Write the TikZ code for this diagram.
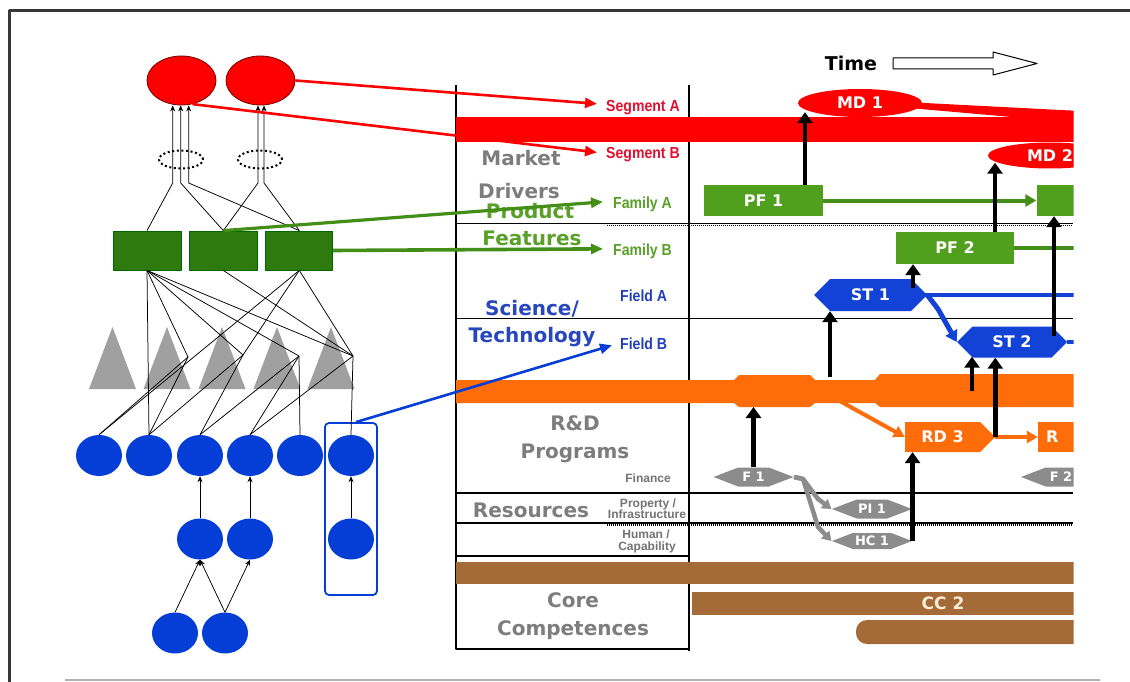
\documentclass[tikz,border=0pt]{standalone}
\usepackage{fontspec}
\setmainfont{DejaVu Sans}
\newfontfamily\dvfont{DejaVu Sans}
\newfontfamily\narrowfont[FakeStretch=0.88]{Liberation Sans}
\newfontfamily\plainfont{Liberation Sans}
\usetikzlibrary{shapes.geometric,shapes.symbols,arrows.meta,calc}

\definecolor{mdred}{RGB}{255,0,0}
\definecolor{segred}{RGB}{226,16,48}
\definecolor{pfgreen}{RGB}{80,160,30}
\definecolor{fgreen}{RGB}{46,122,14}
\definecolor{fgline}{RGB}{66,142,22}
\definecolor{famgreen}{RGB}{88,160,40}
\definecolor{stblue}{RGB}{18,66,214}
\definecolor{cblue}{RGB}{4,62,214}
\definecolor{fieldblue}{RGB}{34,64,186}
\definecolor{techblue}{RGB}{40,70,190}
\definecolor{rdorange}{RGB}{255,108,10}
\definecolor{resgray}{RGB}{140,140,140}
\definecolor{labgray}{RGB}{125,125,125}
\definecolor{tinygray}{RGB}{115,115,115}
\definecolor{trigray}{RGB}{160,160,160}
\definecolor{ccbrown}{RGB}{164,106,56}
\definecolor{cccream}{RGB}{252,238,214}
\definecolor{framegray}{RGB}{55,55,55}

\begin{document}
\begin{tikzpicture}[x=1pt,y=-1pt,line join=round,
  redell/.style={ellipse,fill=mdred,draw=red!45!black,line width=0.8pt,minimum width=69pt,minimum height=49pt,inner sep=0pt},
  dotell/.style={ellipse,draw=black,line width=2pt,dash pattern=on 2pt off 2.6pt,minimum width=44pt,minimum height=18pt,inner sep=0pt},
  grect/.style={rectangle,fill=fgreen,draw=black!60!green,line width=0.8pt,minimum width=68pt,minimum height=39pt,inner sep=0pt},
  bcirc/.style={ellipse,fill=cblue,minimum width=46pt,minimum height=41pt,inner sep=0pt},
  wire/.style={black,line width=0.75pt},
  wirearr/.style={wire,-{Stealth[length=6pt,width=5pt]}},
  biglab/.style={font=\dvfont\bfseries\fontsize{20}{24}\selectfont,anchor=base,inner sep=0pt},
  sublab/.style={font=\narrowfont\bfseries\fontsize{16}{16}\selectfont,anchor=base west,inner sep=0pt},
  tinylab/.style={font=\plainfont\bfseries\fontsize{12}{12}\selectfont,anchor=base,inner sep=0pt,text=tinygray},
  boxtxt/.style={text=white,font=\dvfont\bfseries\fontsize{16}{16}\selectfont},
  smalltxt/.style={text=white,font=\dvfont\bfseries\fontsize{13}{13}\selectfont},
  tline/.style={black,line width=1.3pt},
  dline/.style={black,line width=1.6pt,dash pattern=on 1pt off 1pt},
  barr/.style={black,line width=4.5pt,-{Triangle[width=15pt,length=11pt]}},
  labarr/.style={line width=2.6pt,-{Triangle[width=10pt,length=12pt]}},
  orarr/.style={rdorange,line width=4pt,-{Triangle[width=12pt,length=11pt]}},
  grarr/.style={resgray,line width=4.5pt,-{Triangle[width=11pt,length=9pt]}},
  pfbox/.style={rectangle,fill=pfgreen,minimum width=119pt,minimum height=31pt,inner sep=0pt,boxtxt},
  mdell/.style={ellipse,fill=mdred,minimum width=124pt,minimum height=28pt,inner sep=0pt,boxtxt},
  sthex/.style={signal,signal to=west and east,signal pointer angle=90,fill=stblue,minimum width=113pt,minimum height=32pt,inner sep=0pt,boxtxt},
  rdbox/.style={signal,signal to=east,signal pointer angle=90,fill=rdorange,minimum width=90pt,minimum height=30pt,inner sep=0pt,boxtxt},
  resdia/.style={signal,signal to=west and east,signal pointer angle=42,fill=resgray,minimum width=80pt,minimum height=19pt,inner sep=0pt,smalltxt}
]
\useasboundingbox (0,0) rectangle (1130,682);
\fill[white] (0,0) rectangle (1130,682);

% page frame and bottom rule
\draw[framegray,line width=3pt] (9,682) -- (9,11) -- (1130,11);
\draw[black!30,line width=2pt] (65,680) -- (1100,680);

% ================= left: driver hierarchy =================
\foreach \x in {112.5,167,222,277,331}{
  \fill[trigray] (\x-23.5,389) -- (\x,327) -- (\x+23.5,389) -- cycle;
}

\node[redell] (e1) at (181.5,80.5) {};
\node[redell] (e2) at (260.5,80.5) {};
\node[dotell] (d1) at (181,159.5) {};
\node[dotell] (d2) at (260,159.5) {};
\node[grect] (g1) at (147,250.5) {};
\node[grect] (g2) at (223.3,250.5) {};
\node[grect,minimum width=67pt] (g3) at (299.3,250.5) {};

\node[bcirc] (c1) at (99,455.5) {};
\node[bcirc] (c2) at (149,455.5) {};
\node[bcirc] (c3) at (200,455.5) {};
\node[bcirc] (c4) at (250,455.5) {};
\node[bcirc] (c5) at (300,455.5) {};
\node[bcirc] (c6) at (351,455.5) {};
\node[bcirc] (c7) at (200,539) {};
\node[bcirc] (c8) at (250,539) {};
\node[bcirc] (c9) at (351,539) {};
\node[bcirc] (c10) at (175,633) {};
\node[bcirc] (c11) at (225,633) {};
\node[draw=cblue,line width=1.8pt,rounded corners=4pt,minimum width=52pt,minimum height=172pt,inner sep=0pt] (bx) at (351,509) {};

% bend points above the segments
\coordinate (k1) at (172.7,183);
\coordinate (k2) at (180.7,183);
\coordinate (k3) at (188.7,183);
\coordinate (k4) at (258,183);
\coordinate (k5) at (264,183);
\draw[wirearr] (g1.north) -- (k1) -- (e1.south -| k1);
\draw[wirearr] (g2.north) -- (k2) -- (e1.south -| k2);
\draw[wirearr] (g3.north) -- (k3) -- (e1.south -| k3);
\draw[wirearr] (g2.north) -- (k4) -- (e2.south -| k4);
\draw[wirearr] (g3.north) -- (k5) -- (e2.south -| k5);

% feature to technology links through the triangles
\coordinate (p2) at (188,357);
\coordinate (p3) at (243,355);
\coordinate (p4) at (299,356);
\coordinate (p5) at (353,356);
\foreach \a/\b in {g1.south/c2.north, g1.south/p2, g1.south/p3, g1.south/p4, g1.south/p5,
                   g2.south/p5, g3.south/c1.north, g3.south/p3, g3.south/p5,
                   p2/c1.north, p2/c2.north, p3/c2.north, p3/c3.north,
                   p4/c3.north, p4/c4.north, p4/c5.north, p5/c4.north, p5/c6.north}{
  \draw[wire] (\a) -- (\b);
}
\draw[wirearr] (c7.north) -- (c3.south);
\draw[wirearr] (c8.north) -- (c4.south);
\draw[wirearr] (c9.north) -- (c6.south);
\draw[wirearr] (c10.north) -- (c7.south);
\draw[wirearr] (c11.north) -- (c7.south);
\draw[wirearr] (c11.north) -- (c8.south);

% ================= middle: layer table =================
\draw[tline] (456,85) -- (456,649) -- (689,649);
\draw[tline] (689,85) -- (689,651);
\draw[tline] (456,223.5) -- (1073,223.5);
\draw[dline] (607,225.5) -- (1073,225.5);
\draw[tline] (456,318.5) -- (1073,318.5);
\draw[tline] (456,493) -- (1073,493);
\draw[tline] (456,523) -- (1073,523);
\draw[dline] (607,525) -- (1073,525);
\draw[tline] (456,556) -- (689,556);

\node[biglab,text=labgray] (mk1) at (521,165) {Market};
\node[biglab,text=labgray] (mk2) at (519,198) {Drivers};
\node[biglab,text=famgreen] (pr1) at (530,218) {Product};
\node[biglab,text=famgreen] (pr2) at (532,245) {Features};
\node[biglab,text=techblue] (te1) at (532,315) {Science/};
\node[biglab,text=techblue] (te2) at (532,342) {Technology};
\node[biglab,text=labgray] (rd1) at (575,430) {R\&D};
\node[biglab,text=labgray] (rd2) at (575,458) {Programs};
\node[biglab,text=labgray] (rs1) at (531,517) {Resources};
\node[biglab,text=labgray] (co1) at (573,607) {Core};
\node[biglab,text=labgray] (co2) at (573,635) {Competences};

\node[sublab,text=segred] (segA) at (606,111.7) {Segment A};
\node[sublab,text=segred] (segB) at (606,158.3) {Segment B};
\node[sublab,text=famgreen] (famA) at (613,208) {Family A};
\node[sublab,text=famgreen] (famB) at (613,255) {Family B};
\node[sublab,text=fieldblue] (fldA) at (620,301.7) {Field A};
\node[sublab,text=fieldblue] (fldB) at (620,349) {Field B};

\node[tinylab] (fin) at (648,482) {Finance};
\node[tinylab] (prp1) at (648,507.5) {Property /};
\node[tinylab] (prp2) at (647,518) {Infrastructure};
\node[tinylab] (hum1) at (646,538.5) {Human /};
\node[tinylab] (hum2) at (647,550.5) {Capability};

% ================= right: roadmap =================
\node[font=\dvfont\bfseries\fontsize{19}{19}\selectfont,inner sep=0pt,anchor=base] (time) at (851,71) {Time};
\draw[black,line width=1pt,fill=white] (893,58) -- (993,58) -- (993,52) -- (1037,63.5) -- (993,75) -- (993,69) -- (893,69) -- cycle;

\coordinate (rend) at (1080,0);
\coordinate (bandT) at (456,377);
\coordinate (bandB) at (456,407);

\begin{scope}
\clip (450,0) rectangle (1073.5,682);
% market band
\fill[mdred] (456,117) rectangle (1080,142.5);
\fill[mdred] (915,102.5) -- (1080,111) -- (1080,118) -- (1023,118) -- (915,108.5) -- cycle;
\node[mdell] (md1) at (860,103) {MD 1};
\node[mdell,minimum height=26pt] (md2) at (1050,155.5) {MD 2};

% R&D band
\fill[rdorange] (456,380) -- (734,380) -- (739,375) -- (810,375) -- (815,380) -- (875,380) -- (880,374)
  -- (1080,374) -- (1080,407) -- (880,407) -- (875,403) -- (815,403) -- (810,407) -- (739,407)
  -- (734,403) -- (456,403) -- cycle;

% core competence bars
\fill[ccbrown] (456,562) rectangle (1080,584);
\fill[ccbrown] (692,592) rectangle (1080,615);
\fill[ccbrown,rounded corners=11pt] (856,620) rectangle (1100,644);
\node[text=cccream,font=\dvfont\bfseries\fontsize{17}{17}\selectfont,inner sep=0pt] (cc2) at (943,603.5) {CC 2};

% product features
\node[pfbox] (pf1) at (763.5,200.5) {PF 1};
\node[pfbox] (pf3) at (1096,200.5) {};
\node[pfbox,minimum width=118pt,minimum height=32pt] (pf2) at (955,248) {PF 2};
\draw[fgline,line width=4pt,-{Triangle[width=12pt,length=11pt]}] (pf1.east) -- (pf3.west);
\draw[fgline,line width=4pt] (pf2.east) -- (pf2.east -| rend);

% science / technology
\draw[stblue,line width=4pt] (870,295) -- (870,295 -| rend);
\node[sthex] (st1) at (870.5,295) {ST 1};
\node[sthex,minimum width=110pt,minimum height=31pt] (st2) at (1012,342) {ST 2};
\draw[stblue,line width=4pt] (st2.east) -- (st2.east -| rend);
\coordinate (sb) at (938,309);
\draw[stblue,line width=5pt,-{Triangle[width=13pt,length=11pt]}] (st1.east) -- (sb) -- (st2.west);

% R&D programmes
\node[rdbox] (rd3) at (942.5,437) {RD 3};
\node[rectangle,fill=rdorange,minimum width=90pt,minimum height=30pt,inner sep=0pt,boxtxt,text width=74pt,align=left] (rd4) at (1083,437) {R};
\coordinate (ob) at (838,400);
\draw[orarr] (ob) -- (rd3.west);
\draw[orarr] (rd3.east) -- (rd4.west);

% resources
\node[resdia] (f1) at (753.5,477) {F 1};
\node[resdia] (f2) at (1061,477) {F 2};
\node[resdia] (pi1) at (872,509) {PI 1};
\node[resdia,minimum height=16pt] (hc1) at (872,541) {HC 1};
\coordinate (fq0) at (803,479);
\coordinate (fq1) at (818,499);
\coordinate (fq2) at (818,527);
\draw[grarr] (f1.east) -- (fq0) -- (fq1) -- (pi1.west);
\draw[grarr] (f1.east) -- (fq0) -- (fq2) -- (hc1.west);

% dependency arrows
\coordinate (xa) at (805,0);
\coordinate (xb) at (995,0);
\coordinate (xc) at (1054,0);
\coordinate (xd) at (913,0);
\coordinate (xe) at (830,0);
\coordinate (xf) at (972,0);
\draw[barr] (pf1.north -| xa) -- ($(md1.south -| xa)+(0,-5)$);
\draw[barr] (pf2.north -| xb) -- ($(md2.south -| xb)+(0,-6)$);
\draw[barr] ($(st2.north -| xc)+(0,10)$) -- (pf3.south -| xc);
\draw[barr] ($(st1.north -| xd)+(0,9)$) -- (pf2.south -| xd);
\draw[barr] (bandT -| xe) -- (st1.south -| xe);
\draw[barr] ($(bandT -| xf)+(0,14)$) -- ($(st2.south -| xf)+(0,-1)$);
\draw[barr] (rd3.east) -- (st2.south -| rd3.east);
\draw[barr] (f1.north) -- (bandB -| f1.north);
\draw[barr] (hc1.east) -- (rd3.south -| hc1.east);
\end{scope}

% links from the hierarchy to the table rows
\draw[mdred,labarr] (e2.east) -- ([xshift=-9pt,yshift=4pt]segA.west);
\draw[mdred,labarr] (e1.-65) -- ([xshift=-9pt,yshift=2pt]segB.west);
\draw[fgline,labarr,line width=3.2pt] (g2.north) -- ([xshift=-10pt,yshift=2pt]famA.west);
\draw[fgline,labarr,line width=3.6pt] (g3.east) -- ([xshift=-10pt,yshift=2pt]famB.west);
\draw[cblue,labarr,line width=2.6pt] ([xshift=5pt]bx.north) -- ([xshift=-8pt,yshift=-2pt]fldB.west);
\end{tikzpicture}
\end{document}
